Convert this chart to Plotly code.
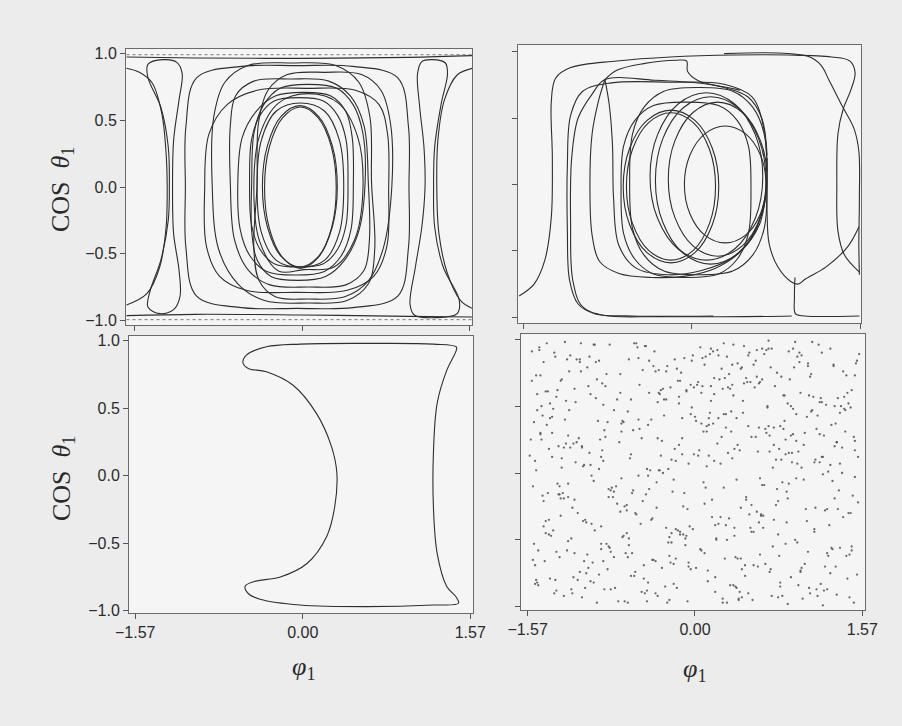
import plotly.graph_objects as go

# ---------------- data (phi_1, cos theta_1) ----------------
# Top-left panel: closed loops
TL_LOOP_1 = [(0.32,-0.005),(0.275,0.30),(0.15,0.52),(-0.015,0.60),(-0.18,0.52),(-0.305,0.30),(-0.35,-0.005),(-0.305,-0.31),(-0.18,-0.53),(-0.015,-0.61),(0.15,-0.53),(0.275,-0.31),(0.32,-0.005)]
TL_LOOP_2 = [(0.33,0.005),(0.283,0.31),(0.155,0.53),(-0.02,0.61),(-0.195,0.53),(-0.323,0.31),(-0.37,0.005),(-0.323,-0.30),(-0.195,-0.52),(-0.02,-0.60),(0.155,-0.52),(0.283,-0.30),(0.33,0.005)]
TL_LOOP_3 = [(0.39,0.005),(0.35,0.35),(0.21,0.57),(-0.015,0.63),(-0.24,0.57),(-0.38,0.35),(-0.42,0.005),(-0.38,-0.34),(-0.24,-0.55),(-0.015,-0.60),(0.21,-0.55),(0.35,-0.34),(0.39,0.005)]
TL_LOOP_4 = [(0.43,0.035),(0.412,0.353),(0.333,0.537),(0.20,0.645),(-0.03,0.67),(-0.26,0.645),(-0.393,0.537),(-0.472,0.353),(-0.49,0.035),(-0.472,-0.283),(-0.393,-0.467),(-0.26,-0.575),(-0.03,-0.60),(0.20,-0.575),(0.333,-0.467),(0.412,-0.283),(0.43,0.035)]
TL_LOOP_5 = [(0.48,0.025),(0.47,0.368),(0.41,0.566),(0.27,0.683),(0.02,0.71),(-0.25,0.683),(-0.43,0.566),(-0.56,0.368),(-0.60,0.025),(-0.578,-0.318),(-0.487,-0.516),(-0.33,-0.633),(-0.06,-0.66),(0.21,-0.633),(0.367,-0.516),(0.458,-0.318),(0.48,0.025)]
TL_LOOP_6 = [(0.59,0.035),(0.569,0.403),(0.479,0.616),(0.325,0.741),(0.06,0.77),(-0.205,0.741),(-0.359,0.616),(-0.449,0.403),(-0.47,0.035),(-0.47,-0.333),(-0.42,-0.546),(-0.29,-0.671),(-0.04,-0.70),(0.22,-0.671),(0.40,-0.546),(0.53,-0.333),(0.59,0.035)]
TL_LOOP_7 = [(0.62,0.03),(0.58,0.459),(0.45,0.685),(0.25,0.794),(-0.10,0.81),(-0.45,0.794),(-0.62,0.685),(-0.67,0.459),(-0.67,0.03),(-0.63,-0.399),(-0.50,-0.625),(-0.30,-0.734),(0.06,-0.75),(0.41,-0.734),(0.58,-0.625),(0.63,-0.399),(0.62,0.03)]
TL_LOOP_8 = [(0.65,0.03),(0.635,0.525),(0.531,0.786),(0.315,0.912),(-0.095,0.93),(-0.505,0.912),(-0.721,0.786),(-0.825,0.525),(-0.84,0.03),(-0.78,-0.465),(-0.60,-0.726),(-0.35,-0.852),(0.06,-0.87),(0.42,-0.852),(0.62,-0.726),(0.68,-0.465),(0.65,0.03)]
TL_LOOP_9 = [(0.84,0.01),(0.827,0.478),(0.739,0.724),(0.557,0.843),(0.21,0.86),(-0.137,0.843),(-0.319,0.724),(-0.407,0.478),(-0.42,0.01),(-0.45,-0.458),(-0.40,-0.704),(-0.25,-0.823),(0.06,-0.84),(0.40,-0.823),(0.62,-0.704),(0.76,-0.458),(0.84,0.01)]
TL_LOOP_10 = [(0.81,-0.025),(0.80,0.396),(0.72,0.618),(0.50,0.725),(0.05,0.74),(-0.42,0.725),(-0.70,0.618),(-0.87,0.396),(-0.91,-0.025),(-0.893,-0.446),(-0.772,-0.668),(-0.523,-0.775),(-0.05,-0.79),(0.423,-0.775),(0.672,-0.668),(0.793,-0.446),(0.81,-0.025)]
TL_LOOP_11 = [(1.00,0.0),(0.995,0.455),(0.895,0.819),(0.475,0.905),(-0.045,0.91),(-0.565,0.905),(-0.985,0.819),(-1.085,0.455),(-1.09,0.0),(-1.085,-0.455),(-0.985,-0.819),(-0.565,-0.905),(-0.045,-0.91),(0.475,-0.905),(0.895,-0.819),(0.995,-0.455),(1.00,0.0)]
TL_LOOP_12 = [(0.57,-0.01),(0.519,0.38),(0.34,0.629),(0.06,0.70),(-0.22,0.629),(-0.399,0.38),(-0.45,-0.01),(-0.399,-0.40),(-0.22,-0.63),(0.02,-0.62),(0.30,-0.60),(0.49,-0.40),(0.57,-0.01)]
TL_HOURGLASS_LEFT = [(-1.21,0.0),(-1.20,0.35),(-1.15,0.65),(-1.12,0.85),(-1.17,0.935),(-1.30,0.955),(-1.44,0.92),(-1.44,0.82),(-1.32,0.60),(-1.25,0.30),(-1.24,0.0),(-1.25,-0.25),(-1.32,-0.55),(-1.42,-0.78),(-1.44,-0.90),(-1.33,-0.95),(-1.20,-0.92),(-1.14,-0.82),(-1.15,-0.62),(-1.20,-0.35),(-1.21,0.0)]
TL_HOURGLASS_RIGHT = [(1.23,0.0),(1.24,0.30),(1.30,0.62),(1.36,0.85),(1.34,0.93),(1.22,0.955),(1.12,0.94),(1.08,0.85),(1.10,0.60),(1.14,0.30),(1.15,0.0),(1.12,-0.30),(1.06,-0.60),(1.01,-0.88),(1.05,-0.96),(1.25,-0.98),(1.45,-0.95),(1.47,-0.85),(1.32,-0.60),(1.24,-0.30),(1.23,0.0)]
TL_EDGE_LEFT = [(-1.64,0.89),(-1.52,0.86),(-1.40,0.78),(-1.31,0.55),(-1.27,0.25),(-1.26,0.0),(-1.27,-0.30),(-1.33,-0.60),(-1.45,-0.80),(-1.64,-0.885)]
TL_EDGE_RIGHT = [(1.59,0.89),(1.45,0.84),(1.33,0.65),(1.27,0.35),(1.26,0.0),(1.28,-0.35),(1.36,-0.65),(1.48,-0.85),(1.59,-0.91)]
TL_TOP_LINE = [(-1.64,0.975),(-1.0,0.968),(0.0,0.965),(1.0,0.972),(1.59,0.985)]
TL_BOTTOM_LINE = [(-1.64,-0.965),(-1.0,-0.955),(0.0,-0.96),(1.0,-0.97),(1.59,-0.975)]
TL_TOP_DOTS = [(-1.64,0.992),(1.59,0.992)]
TL_BOTTOM_DOTS = [(-1.64,-0.995),(1.59,-0.995)]

# Top-right panel
TR_LOOP_1 = [(0.69,0.0),(0.639,0.22),(0.50,0.381),(0.31,0.44),(0.12,0.381),(-0.019,0.22),(-0.07,0.0),(-0.019,-0.22),(0.12,-0.381),(0.31,-0.44),(0.50,-0.381),(0.639,-0.22),(0.69,0.0)]
TR_LOOP_2 = [(0.25,-0.015),(0.19,0.273),(0.028,0.483),(-0.195,0.56),(-0.418,0.483),(-0.58,0.273),(-0.64,-0.015),(-0.58,-0.303),(-0.418,-0.513),(-0.195,-0.59),(0.028,-0.513),(0.19,-0.303),(0.25,-0.015)]
TR_LOOP_3 = [(0.22,-0.015),(0.164,0.263),(0.013,0.466),(-0.195,0.54),(-0.403,0.466),(-0.554,0.263),(-0.61,-0.015),(-0.554,-0.293),(-0.403,-0.496),(-0.195,-0.57),(0.013,-0.496),(0.164,-0.293),(0.22,-0.015)]
TR_LOOP_4 = [(0.66,0.06),(0.59,0.375),(0.398,0.606),(0.135,0.69),(-0.128,0.606),(-0.32,0.375),(-0.39,0.06),(-0.32,-0.255),(-0.128,-0.486),(0.135,-0.57),(0.398,-0.486),(0.59,-0.255),(0.66,0.06)]
TR_LOOP_5 = [(0.69,0.03),(0.621,0.345),(0.433,0.576),(0.175,0.66),(-0.083,0.576),(-0.271,0.345),(-0.34,0.03),(-0.271,-0.285),(-0.083,-0.516),(0.175,-0.60),(0.433,-0.516),(0.621,-0.285),(0.69,0.03)]
TR_LOOP_6 = [(0.70,0.04),(0.638,0.33),(0.47,0.542),(0.24,0.62),(0.01,0.542),(-0.158,0.33),(-0.22,0.04),(-0.158,-0.25),(0.01,-0.462),(0.24,-0.54),(0.47,-0.462),(0.638,-0.25),(0.70,0.04)]
TR_LOOP_7 = [(0.70,0.025),(0.674,0.378),(0.566,0.582),(0.38,0.702),(0.06,0.73),(-0.26,0.702),(-0.446,0.582),(-0.554,0.378),(-0.58,0.025),(-0.554,-0.328),(-0.446,-0.532),(-0.26,-0.652),(0.06,-0.68),(0.38,-0.652),(0.566,-0.532),(0.674,-0.328),(0.70,0.025)]
TR_LOOP_8 = [(0.55,-0.04),(0.526,0.29),(0.423,0.481),(0.248,0.594),(-0.055,0.62),(-0.358,0.594),(-0.533,0.481),(-0.636,0.29),(-0.66,-0.04),(-0.636,-0.37),(-0.533,-0.561),(-0.358,-0.674),(-0.055,-0.70),(0.248,-0.674),(0.423,-0.561),(0.526,-0.37),(0.55,-0.04)]
TR_OUTER = [(-1.61,-0.84),(-1.47,-0.75),(-1.37,-0.57),(-1.31,-0.25),(-1.30,0.20),(-1.31,0.62),(-1.27,0.80),(-1.13,0.88),(-0.70,0.93),(-0.20,0.96),(0.40,0.975),(0.90,0.975),(1.30,0.96),(1.47,0.93),(1.52,0.84),(1.48,0.71),(1.41,0.57),(1.36,0.38),(1.35,0.0),(1.36,-0.35),(1.42,-0.53),(1.56,-0.66)]
TR_CROSS = [(0.30,0.985),(0.80,0.99),(1.08,0.965),(1.20,0.90),(1.28,0.78),(1.40,0.59),(1.51,0.42),(1.555,0.25),(1.56,-0.10),(1.555,-0.45),(1.56,-0.68)]
TR_CUSP_LEFT = [(0.45,0.71),(0.10,0.76),(-0.35,0.785),(-0.81,0.79),(-0.93,0.68),(-1.06,0.50),(-1.12,0.20),(-1.13,-0.30),(-1.11,-0.72),(-1.02,-0.92),(-0.82,-0.985),(-0.30,-0.995),(0.50,-0.995),(0.93,-0.99)]
TR_CUSP_MID = [(-0.81,0.79),(-0.87,0.63),(-0.93,0.38),(-0.95,0.0),(-0.93,-0.38),(-0.86,-0.58),(-0.68,-0.67),(-0.38,-0.70),(-0.06,-0.69),(0.22,-0.63),(0.46,-0.50),(0.63,-0.30),(0.69,-0.05)]
TR_CUSP_RIGHT = [(-0.81,0.79),(-0.77,0.60),(-0.74,0.30),(-0.73,-0.10),(-0.68,-0.46),(-0.52,-0.63),(-0.22,-0.68),(0.08,-0.65),(0.38,-0.55),(0.58,-0.37),(0.68,-0.10)]
TR_UPPER = [(-0.81,0.79),(-0.70,0.86),(-0.45,0.91),(-0.15,0.935),(-0.05,0.93),(-0.04,0.85),(0.06,0.78),(0.30,0.73),(0.52,0.66),(0.65,0.50),(0.70,0.22)]
TR_ARCH = [(0.70,0.10),(0.67,0.42),(0.56,0.66),(0.30,0.755),(-0.20,0.77),(-0.75,0.765),(-1.02,0.70),(-1.13,0.52),(-1.16,0.15),(-1.16,-0.35),(-1.14,-0.72),(-1.06,-0.90),(-0.90,-0.975),(-0.55,-0.99),(0.20,-0.99)]
TR_BUMP = [(0.70,0.20),(0.70,-0.20),(0.72,-0.45),(0.80,-0.62),(0.92,-0.73),(0.99,-0.75),(1.06,-0.71),(1.25,-0.62),(1.45,-0.47),(1.555,-0.32)]
TR_DROP = [(0.96,-0.70),(0.955,-0.85),(0.965,-0.975),(1.05,-0.99),(1.56,-0.99)]

# Bottom-left panel: one closed orbit
BL_ORBIT = [(1.225,0.165),(1.26,0.536),(1.35,0.78),(1.44,0.93),(1.44,0.955),(1.225,0.975),(0.6,0.98),(-0.025,0.975),(-0.34,0.955),(-0.525,0.895),(-0.56,0.837),(-0.51,0.795),(-0.34,0.77),(-0.09,0.67),(0.13,0.46),(0.27,0.215),(0.32,0.02),(0.30,-0.23),(0.225,-0.45),(0.04,-0.65),(-0.21,-0.75),(-0.46,-0.785),(-0.54,-0.82),(-0.50,-0.88),(-0.4,-0.915),(-0.025,-0.958),(0.6,-0.97),(1.225,-0.958),(1.46,-0.945),(1.44,-0.90),(1.35,-0.82),(1.26,-0.575),(1.225,-0.23),(1.225,0.165)]

# Bottom-right panel: scattered section points
BR_PHI = [-1.42,0.37,-0.88,1.21,-0.15,0.92,-1.27,0.05,1.48,-0.63,0.71,-1.05,0.28,-0.41,1.33,-1.51,0.56,-0.22,1.02,-0.95,0.14,-1.36,0.83,-0.07,1.44,-0.72,0.42,-1.18,1.12,-0.33,0.66,-1.48,0.21,-0.81,1.29,-0.12,0.97,-1.09,0.49,-0.55,
          1.53,-0.29,0.78,-1.39,0.09,-0.67,1.17,-1.02,0.33,-0.47,1.39,-1.23,0.61,-0.04,0.88,-1.45,0.19,-0.84,1.07,-0.59,0.47,-1.31,1.25,-0.18,0.74,-0.98,0.02,-1.55,1.36,-0.38,0.53,-0.76,1.49,-1.14,0.25,-0.51,0.95,-1.29,0.12,-0.91,
          0.68,-1.41,1.09,-0.25,0.39,-0.69,1.31,-1.07,-0.09,0.85,-1.53,0.29,-0.44,1.19,-0.86,0.58,-1.2,1.42,-0.31,0.07,-0.78,1.01,-1.34,0.44,-0.14,0.79,-1.0,1.27,-0.53,0.17,-1.47,0.63,-0.36,1.14,-0.93,0.35,-1.16,1.51,-0.21,0.9,
          -0.6,0.24,-1.38,1.05,-0.02,0.72,-1.11,0.45,-0.79,1.35,-0.27,0.11,-1.5,0.94,-0.49,1.23,-0.96,0.31,-0.16,0.81,-1.25,0.54,-0.7,1.46,-0.1,0.65,-1.43,0.99,-0.35,0.2,-0.87,1.16,-1.19,0.4,-0.58,1.3,-0.05,0.76,-1.32,0.15,
          1.41,-0.83,0.51,-0.2,1.1,-1.49,0.03,-0.64,0.87,-1.06,0.36,-0.39,1.27,-0.9,0.6,-1.22,0.1,1.52,-0.46,0.7,-1.4,0.26,-0.75,1.03,-0.13,0.48,-1.13,1.37,-0.3,0.82,-0.99,0.16,-1.54,0.59,-0.52,1.2,-0.24,0.93,-1.28,0.38,
          -0.43,1.13,-0.06,0.69,-1.17,0.3,-0.82,1.45,-0.34,0.08,-1.44,0.9,-0.61,0.46,-1.03,1.24,-0.19,0.73,-1.3,0.22,-0.73,1.08,-0.11,0.57,-1.52,0.98,-0.4,0.13,-0.92,1.34,-1.21,0.52,-0.26,0.86,-1.08,0.34,-0.57,1.47,-0.01,0.64,
          -1.35,0.43,-0.89,1.18,-0.23,0.77,-1.46,0.06,1.32,-0.66,0.5,-1.12,0.18,-0.37,1.06,-0.97,0.67,-1.26,1.5,-0.48,0.27,-0.8,0.96,-1.37,0.41,-0.08,1.22,-0.62,0.11,-1.01,0.84,-1.24,0.32,-0.17,1.4,-0.71,0.55,-1.5,1.0,-0.32,
          0.23,-1.15,0.8,-0.42,1.28,-0.03,0.62,-1.33,0.99,-0.54,0.04,-0.94,1.43,-0.28,0.7,-1.19,0.35,-0.65,1.15,-1.42,0.13,-0.45,0.89,-0.85,1.26,-0.15,0.47,-1.04,1.54,-0.56,0.28,-1.28,0.75,-0.08,1.1,-0.77,0.39,-1.48,0.91,-0.33,
          -0.74,1.36,-1.1,0.18,-0.5,0.86,-1.39,0.55,-0.12,1.11,-0.88,0.3,-1.23,0.66,-0.35,1.47,-0.06,0.78,-1.01,0.44,-0.68,1.2,-1.53,0.09,0.95,-0.4,0.61,-1.16,1.31,-0.22,0.38,-0.93,1.04,-1.34,0.19,-0.6,0.72,-0.02,1.38,-0.81,
          0.5,-1.26,0.87,-0.18,1.19,-0.7,0.26,-1.45,0.64,-0.3,1.02,-0.95,0.01,-0.53,1.44,-1.08,0.4,-0.79,0.83,-0.1,1.28,-1.3,0.58,-0.44,0.12,-1.18,0.97,-0.62,1.5,-0.26,0.34,-1.4,0.76,-0.86,0.07,1.12,-1.05,0.45,-0.37,1.33,
          -1.2,0.15,-0.58,0.92,-1.47,0.37,-0.04,1.24,-0.82,0.69,-1.11,0.2,-0.45,1.08,-0.98,0.53,-1.37,1.39,-0.24,0.81,-0.63,0.0,-1.25,0.48,1.17,-0.9,0.27,-0.36,0.74,-1.51,1.06,-0.14,0.6,-1.03,0.31,-0.69,1.46,-0.2,0.88,-1.32,
          0.06,-0.76,1.3,-1.13,0.42,-0.27,0.96,-1.42,0.17,-0.56,1.21,-0.84,0.63,-1.19,0.29,-0.07,1.42,-0.99,0.51,-0.34,0.8,-1.49,0.1,-0.64,1.14,-0.23,0.68,-1.27,0.36,-0.88,1.53,-0.49,0.22,-1.06,0.85,-0.16,0.43,-1.36,1.0,-0.43,
          -1.33,0.58,-0.19,1.07,-0.86,0.27,-1.46,0.79,-0.52,1.34,-0.01,0.44,-1.12,0.96,-0.68,1.49,-0.31,0.14,-0.97,0.71,-1.4,0.36,1.18,-0.6,0.05,-1.22,0.87,-0.41,1.27,-0.14,0.62,-0.9,1.52,-1.04,0.21,-0.47,0.99,-1.29,0.5,-0.25,
          0.91,-0.57,1.41,-1.17,0.32,-0.08,0.73,-1.5,1.15,-0.37,0.11,-0.79,1.03,-1.36,0.46,-0.22,1.31,-0.95,0.6,-0.64,0.01,1.45,-1.08,0.39,-0.45,0.84,-1.25,0.19,-0.83,1.22,-0.12,0.67,-1.43,0.94,-0.29,0.3,-1.0,1.38,-0.7,0.55,
          -0.92,0.16,1.25,-0.44,0.65,-1.31,0.03,-0.73,1.12,-1.19,0.41,-0.17,0.82,-1.48,1.47,-0.55,0.24,-1.06,0.7,-0.32,1.0,-0.85,0.13,-1.38,0.57,-0.09,1.33,-0.66,0.35,-1.15,0.9,-0.48,1.19,-1.27,0.08,-0.62,0.77,-0.2,1.5,-1.02,
          0.43,-1.44,0.98,-0.27,0.18,-0.81,1.36,-0.5,0.63,-1.1,1.09,-0.04,0.52,-1.34,0.85,-0.69,0.26,-0.39,1.29,-1.21,0.74,-0.15,1.43,-0.94,0.09,-0.59,1.05,-1.49,0.37,-0.34,0.8,-1.13,1.17,-0.76,0.22,-0.06,1.4,-0.88,0.59,-1.23,
          -0.35,1.24,-0.98,0.48,-0.11,0.88,-1.37,0.29,-0.63,1.13,-1.14,0.06,0.69,-0.43,1.5,-0.8,0.4,-1.26,0.95,-0.24,0.15,-0.87,1.32,-1.45,0.61,-0.53,1.06,-0.03,0.33,-1.07,0.78,-0.67,1.2,-1.3,0.53,-0.18,0.92,-1.52,0.25,-0.46]
BR_COS = [0.83,-0.41,0.12,-0.88,0.57,0.29,-0.63,0.94,-0.17,0.46,-0.72,0.05,0.71,-0.35,-0.91,0.38,0.64,-0.52,0.21,-0.06,0.89,-0.79,0.33,-0.27,0.52,-0.96,0.17,0.76,-0.44,0.02,-0.68,0.59,0.92,-0.12,-0.57,0.41,-0.84,0.26,0.68,-0.31,
          -0.22,0.55,-0.93,0.36,0.81,-0.47,0.08,-0.75,0.63,0.95,-0.33,0.19,-0.61,0.44,-0.08,0.73,-0.89,0.27,0.58,-0.15,-0.69,0.87,0.01,-0.42,0.34,-0.81,0.66,0.13,-0.56,0.91,-0.24,0.47,-0.97,0.22,0.78,-0.38,-0.04,0.62,-0.73,0.39,
          0.49,-0.66,0.74,0.03,-0.86,0.31,-0.19,0.97,-0.54,0.14,0.69,-0.39,-0.82,0.53,0.09,-0.29,0.85,-0.62,0.24,0.65,-0.11,-0.94,0.42,0.79,-0.46,0.18,-0.71,0.93,-0.02,0.37,-0.58,0.7,-0.26,-0.87,0.56,0.11,-0.49,0.82,-0.14,0.28,
          -0.77,0.07,0.61,-0.36,0.88,-0.92,0.23,0.45,-0.59,-0.13,0.76,0.35,-0.83,0.98,-0.21,0.51,-0.67,0.15,-0.43,0.72,0.04,-0.95,0.6,-0.3,0.86,-0.09,0.43,-0.74,0.26,-0.5,0.67,0.96,-0.18,-0.64,0.32,0.8,-0.4,0.1,-0.9,0.54,
          0.31,-0.53,0.9,-0.05,0.47,-0.8,0.68,-0.28,-0.98,0.2,0.58,-0.65,0.06,0.84,-0.37,0.4,-0.11,-0.76,0.95,0.16,-0.45,0.63,-0.86,0.3,0.75,-0.2,-0.6,0.5,0.0,-0.92,0.87,-0.33,0.25,-0.7,0.66,0.12,-0.48,0.79,-0.16,-0.85,
          0.6,-0.26,-0.7,0.93,0.19,-0.5,0.38,-0.93,0.77,-0.07,0.5,-0.78,0.11,0.67,-0.35,-0.6,0.85,0.04,-0.88,0.41,-0.23,0.72,-0.46,0.27,-0.1,0.9,-0.65,0.36,-0.97,0.56,0.22,-0.41,0.8,-0.14,-0.74,0.46,0.97,-0.55,0.14,-0.32,
          -0.47,0.78,0.25,-0.83,0.64,-0.12,0.92,-0.58,0.37,-0.25,-0.9,0.53,0.09,-0.66,0.82,-0.38,0.3,0.69,-0.03,-0.79,0.44,0.96,-0.52,0.18,-0.95,0.62,-0.28,0.85,0.05,-0.61,0.39,-0.15,0.74,-0.86,0.57,0.23,-0.44,-0.69,0.88,0.13,
          0.7,-0.9,0.35,0.02,-0.56,0.84,-0.32,0.48,-0.73,0.94,0.17,-0.43,0.6,-0.85,0.28,-0.08,0.81,-0.6,0.43,-0.21,0.13,-0.96,0.7,0.32,-0.39,0.52,-0.77,0.06,0.89,-0.3,-0.64,0.2,0.65,-0.47,0.98,-0.18,0.41,-0.82,0.08,0.59,
          -0.1,0.45,-0.8,0.71,0.26,-0.37,0.97,-0.69,0.14,0.57,-0.53,0.87,-0.19,0.33,-0.92,0.62,0.07,-0.46,0.79,-0.72,0.39,-0.01,0.91,-0.6,0.24,-0.34,0.68,-0.87,0.5,0.1,-0.63,0.83,-0.27,0.3,-0.78,0.55,0.93,-0.42,0.19,-0.55,
          0.88,-0.19,0.52,-0.64,0.12,0.74,-0.94,0.29,-0.41,0.63,-0.05,0.96,-0.71,0.4,-0.3,0.83,0.21,-0.87,0.58,-0.15,0.36,-0.59,0.92,-0.02,-0.81,0.47,0.16,-0.49,0.73,-0.97,0.31,0.61,-0.24,-0.66,0.86,0.08,-0.36,0.54,-0.9,0.23,
          -0.58,0.93,-0.13,0.48,-0.84,0.18,0.66,-0.27,-0.72,0.35,0.85,-0.49,0.03,-0.9,0.59,0.27,-0.35,0.76,-0.62,0.1,-0.97,0.42,0.7,-0.18,0.53,-0.76,0.97,-0.07,0.21,-0.53,0.8,-0.44,0.34,-0.86,0.64,-0.04,0.49,-0.68,0.15,0.9,
          0.37,-0.63,0.81,-0.2,-0.89,0.55,0.07,-0.4,0.91,-0.74,0.28,0.65,-0.09,-0.51,0.44,-0.96,0.73,0.15,-0.31,0.6,-0.82,0.02,0.87,-0.45,0.33,-0.67,0.5,-0.16,0.96,-0.57,0.12,0.77,-0.38,-0.93,0.25,0.69,-0.26,0.41,-0.71,0.84,
          -0.43,0.72,0.18,-0.86,0.51,-0.11,0.94,-0.62,0.33,-0.27,0.64,-0.93,0.08,0.87,-0.48,0.27,-0.71,0.45,-0.02,0.79,-0.36,-0.84,0.56,0.14,-0.57,0.98,-0.19,0.4,-0.75,0.69,-0.31,0.03,0.84,-0.66,0.22,-0.9,0.6,-0.08,0.35,-0.52,
          0.15,-0.77,0.47,0.88,-0.34,0.61,-0.55,0.09,-0.92,0.76,0.31,-0.13,-0.68,0.52,0.95,-0.45,0.2,-0.82,0.67,-0.24,0.39,-0.61,0.85,-0.05,-0.88,0.58,0.11,-0.39,0.74,-0.7,0.26,0.92,-0.17,-0.5,0.43,-0.97,0.65,0.0,-0.29,0.81,
          0.7,-0.2,-0.62,0.36,0.89,-0.8,0.13,0.55,-0.42,0.28,-0.94,0.78,-0.07,0.47,-0.58,0.97,-0.33,0.19,-0.74,0.62,0.04,-0.87,0.41,-0.15,0.84,-0.49,0.23,-0.96,0.66,-0.26,0.5,-0.69,0.9,-0.1,0.31,-0.54,0.75,-0.83,0.17,-0.37,
          -0.64,0.25,0.83,-0.41,0.59,-0.18,0.07,-0.89,0.93,-0.3,0.46,-0.72,0.68,0.12,-0.53,0.37,-0.97,0.8,-0.06,0.54,-0.35,0.21,-0.79,0.96,-0.23,-0.6,0.42,0.73,-0.47,0.02,-0.85,0.63,0.29,-0.14,0.88,-0.67,0.48,-0.4,0.16,-0.92,
          0.53,-0.87,0.06,0.71,-0.25,0.91,-0.46,0.34,-0.63,0.1,-0.78,0.6,0.99,-0.12,0.24,-0.56,0.82,-0.32,0.44,-0.95,0.65,0.17,-0.7,0.3,-0.04,0.86,-0.59,0.49,-0.84,0.76,-0.21,0.38,-0.99,0.57,-0.44,0.09,0.93,-0.65,0.27,-0.16]

Y_TICKS = [-1.0, -0.5, 0.0, 0.5, 1.0]
Y_TICK_TEXT = ["\u22121.0", "\u22120.5", "0.0", "0.5", "1.0"]
X_TICKS = [-1.57, 0.0, 1.57]
X_TICK_TEXT = ["\u22121.57", "0.00", "1.57"]

# ---------------- figure ----------------
LINE_COLOR = "#2e2e2e"
fig = go.Figure()

def add_curve(pts, xa, ya, dash="solid", color=LINE_COLOR, width=1.1):
    fig.add_trace(go.Scatter(
        x=[p[0] for p in pts], y=[p[1] for p in pts],
        mode="lines", xaxis=xa, yaxis=ya, hoverinfo="skip",
        line=dict(color=color, width=width, dash=dash,
                  shape="spline" if len(pts) > 2 else "linear", smoothing=1.0),
        showlegend=False))

for c in [TL_LOOP_1, TL_LOOP_2, TL_LOOP_3, TL_LOOP_4, TL_LOOP_5, TL_LOOP_6,
          TL_LOOP_7, TL_LOOP_8, TL_LOOP_9, TL_LOOP_10, TL_LOOP_11, TL_LOOP_12,
          TL_HOURGLASS_LEFT, TL_HOURGLASS_RIGHT, TL_EDGE_LEFT, TL_EDGE_RIGHT,
          TL_TOP_LINE, TL_BOTTOM_LINE]:
    add_curve(c, "x", "y")
add_curve(TL_TOP_DOTS, "x", "y", dash="dot", color="#777", width=1)
add_curve(TL_BOTTOM_DOTS, "x", "y", dash="dot", color="#777", width=1)

for c in [TR_LOOP_1, TR_LOOP_2, TR_LOOP_3, TR_LOOP_4, TR_LOOP_5, TR_LOOP_6,
          TR_LOOP_7, TR_LOOP_8, TR_OUTER, TR_CROSS, TR_CUSP_LEFT, TR_CUSP_MID,
          TR_CUSP_RIGHT, TR_UPPER, TR_ARCH, TR_BUMP, TR_DROP]:
    add_curve(c, "x2", "y2")

add_curve(BL_ORBIT, "x3", "y3")

n = min(len(BR_PHI), len(BR_COS))
fig.add_trace(go.Scatter(x=BR_PHI[:n], y=BR_COS[:n], mode="markers",
                         xaxis="x4", yaxis="y4", hoverinfo="skip", showlegend=False,
                         marker=dict(size=2.3, color="#505050", opacity=0.85, line=dict(width=0))))

W, H = 902, 726
def dom_x(a, b):
    return [a / W, b / W]
def dom_y(top, bottom):
    return [1 - bottom / H, 1 - top / H]

tick_font = dict(family="Liberation Sans, Arial, sans-serif", size=16, color="#2b2b2b")
common = dict(showgrid=False, zeroline=False, showline=True, mirror=True,
              linecolor="#6a6a6a", linewidth=1, ticks="outside", ticklen=5,
              tickcolor="#555", tickwidth=1, tickfont=tick_font, fixedrange=True,
              automargin=False)

fig.update_layout(
    template="none",
    width=W, height=H, autosize=False,
    margin=dict(l=0, r=0, t=0, b=0, pad=0, autoexpand=False),
    paper_bgcolor="#ececec", plot_bgcolor="#f5f5f5", showlegend=False,
    xaxis=dict(domain=dom_x(126, 472), range=[-1.645, 1.589], anchor="y",
               tickvals=X_TICKS, showticklabels=False, **common),
    yaxis=dict(domain=dom_y(49, 325), range=[-1.035, 1.035], anchor="x",
               tickvals=Y_TICKS, ticktext=Y_TICK_TEXT, **common),
    xaxis2=dict(domain=dom_x(518, 861), range=[-1.62, 1.575], anchor="y2",
                tickvals=X_TICKS, showticklabels=False, **common),
    yaxis2=dict(domain=dom_y(45, 323), range=[-1.043, 1.05], anchor="x2",
                tickvals=Y_TICKS, showticklabels=False, **common),
    xaxis3=dict(domain=dom_x(129, 473), range=[-1.628, 1.596], anchor="y3",
                tickvals=X_TICKS, ticktext=X_TICK_TEXT, **common),
    yaxis3=dict(domain=dom_y(336, 613), range=[-1.017, 1.035], anchor="x3",
                tickvals=Y_TICKS, ticktext=Y_TICK_TEXT, **common),
    xaxis4=dict(domain=dom_x(521, 865), range=[-1.632, 1.595], anchor="y4",
                tickvals=X_TICKS, ticktext=X_TICK_TEXT, **common),
    yaxis4=dict(domain=dom_y(334, 610), range=[-1.025, 1.04], anchor="x4",
                tickvals=Y_TICKS, showticklabels=False, **common),
)

title_font = dict(family="Liberation Serif, DejaVu Serif, serif", size=26, color="#2a2a2a")
ylab = "COS&nbsp;&nbsp;<i>\u03b8</i><sub>1</sub>"
xlab = "<i>\u03c6</i><sub>1</sub>"
for (xp, yp) in [(62, 190), (63, 478)]:
    fig.add_annotation(text=ylab, x=xp / W, y=1 - yp / H, xref="paper", yref="paper",
                       showarrow=False, textangle=-90, font=title_font,
                       xanchor="center", yanchor="middle")
for (xp, yp) in [(303, 668), (694, 670)]:
    fig.add_annotation(text=xlab, x=xp / W, y=1 - yp / H, xref="paper", yref="paper",
                       showarrow=False, font=title_font, xanchor="center", yanchor="middle")

fig.write_html(
    "out.html",
    config={"displayModeBar": False, "responsive": False},
    post_script=("document.documentElement.style.margin='0';"
                 "document.body.style.margin='0';document.body.style.padding='0';"
                 "document.body.style.background='#ececec';"
                 "document.documentElement.style.overflow='hidden';"),
)
